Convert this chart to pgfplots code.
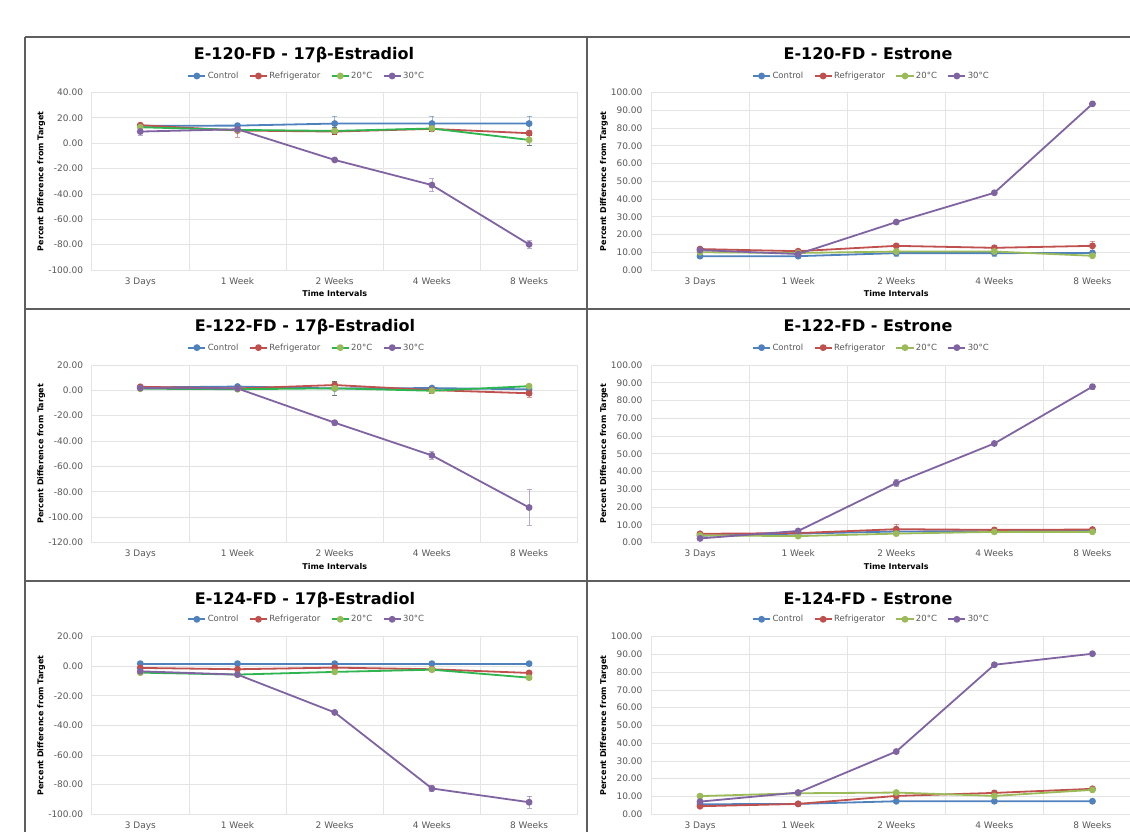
\documentclass[border=0pt]{standalone}
\usepackage{fontspec}
\setmainfont{DejaVu Sans}
\usepackage{pgfplots}
\pgfplotsset{compat=1.18}
\definecolor{cBlue}{HTML}{4F81BD}
\definecolor{cRed}{HTML}{C0504D}
\definecolor{cGreen}{HTML}{9BBB59}
\definecolor{cGreenLine}{HTML}{2DB54F}
\definecolor{cPurple}{HTML}{8064A2}
\definecolor{gridc}{HTML}{E4E4E4}
\definecolor{tickc}{HTML}{595959}
\definecolor{borderc}{HTML}{5E5E5E}
\pgfplotsset{
 common/.style={
  scale only axis, height=177.5pt, anchor=north west,
  xmin=-0.5, xmax=4.5, xtick={0,1,2,3,4},
  xticklabels={3 Days,1 Week,2 Weeks,4 Weeks,8 Weeks},
  minor xtick={-0.5,0.5,1.5,2.5,3.5,4.5},
  xminorgrids=true, ymajorgrids=true,
  minor grid style={draw=gridc, line width=0.8pt},
  major grid style={draw=gridc, line width=0.8pt},
  axis line style={draw=gridc, line width=0.8pt},
  major tick length=0pt, minor tick length=0pt,
  tick style={draw=none},
  ticklabel style={font=\fontsize{9}{10}\selectfont, text=tickc},
  yticklabel style={/pgf/number format/fixed, /pgf/number format/fixed zerofill, /pgf/number format/precision=2, /pgf/number format/assume math mode=true, inner sep=0pt, xshift=-8.5pt},
  xticklabel style={anchor=base, inner sep=0pt, yshift=-14pt},
  ylabel={Percent Difference from Target},
  label style={font=\bfseries\fontsize{8}{9}\selectfont},
  xlabel style={at={(axis description cs:0.5,-0.133)}, anchor=center},
  legend columns=4,
  legend style={draw=none, fill=none, font=\fontsize{8.5}{10}\selectfont, text=tickc, anchor=center,
    /tikz/every even column/.append style={column sep=9pt},
    nodes={inner sep=1.5pt}},
  legend cell align=left,
 },
 leftp/.style={common, width=486pt,
  ylabel style={at={(axis description cs:-0.104,0.5)}, anchor=center}},
 rightp/.style={common, width=490.5pt,
  ylabel style={at={(axis description cs:-0.096,0.5)}, anchor=center}},
 ser/.style={line width=1.8pt, mark=*, mark size=2.5pt, line join=round,
  error bars/y dir=both, error bars/y explicit,
  error bars/error bar style={line width=0.6pt, opacity=0.55},
  error bars/error mark options={rotate=90, mark size=2.5pt, line width=0.6pt, opacity=0.55}},
 greenA/.style={ser, draw=cGreenLine, mark options={fill=cGreen, draw=cGreen}},
 greenB/.style={ser, color=cGreen},
}
\begin{document}
\begin{tikzpicture}[x=1pt,y=1pt]
\useasboundingbox (0,0) rectangle (1130,-832);
\clip (0,0) rectangle (1130,-832);
\fill[white] (0,0) rectangle (1130,-832);

% ---------- Row 1 left
\begin{axis}[leftp, at={(91.7pt,-92.5pt)}, ymin=-100, ymax=40, ytick={-100,-80,...,40},
  xlabel={Time Intervals},
  legend style={at={(axis description cs:0.442,1.093)}}]
\addplot[ser, color=cBlue] coordinates {(0,13.7) +- (0,1) (1,13.9) +- (0,1) (2,15.5) +- (0,6) (3,15.5) +- (0,6) (4,15.5) +- (0,6)};
\addplot[ser, color=cRed] coordinates {(0,14.2) +- (0,1) (1,10.0) +- (0,5) (2,9.2) +- (0,2) (3,11.3) +- (0,1) (4,7.9) +- (0,2)};
\addplot[greenA] coordinates {(0,12.6) +- (0,1) (1,10.5) +- (0,1) (2,9.7) +- (0,3) (3,11.6) +- (0,2) (4,2.6) +- (0,4)};
\addplot[ser, color=cPurple] coordinates {(0,9.2) +- (0,3) (1,11.0) +- (0,1) (2,-13.2) +- (0,1) (3,-33.0) +- (0,5) (4,-79.8) +- (0,3)};
\legend{Control,Refrigerator,20°C,30°C}
\end{axis}

% ---------- Row 1 right
\begin{axis}[rightp, at={(651pt,-92.5pt)}, ymin=0, ymax=100, ytick={0,10,...,100},
  xlabel={Time Intervals},
  legend style={at={(axis description cs:0.449,1.093)}}]
\addplot[ser, color=cBlue] coordinates {(0,7.8) +- (0,0.5) (1,7.8) +- (0,0.5) (2,9.5) +- (0,1.5) (3,9.5) +- (0,1.5) (4,9.6) +- (0,1)};
\addplot[ser, color=cRed] coordinates {(0,11.8) +- (0,0.5) (1,10.6) +- (0,0.5) (2,13.6) +- (0,1) (3,12.5) +- (0,1) (4,13.6) +- (0,2.5)};
\addplot[greenB] coordinates {(0,10.0) +- (0,0.5) (1,9.6) +- (0,0.5) (2,10.4) +- (0,1) (3,10.4) +- (0,1) (4,8.0) +- (0,1)};
\addplot[ser, color=cPurple] coordinates {(0,11.2) +- (0,0.5) (1,9.0) +- (0,0.5) (2,27.0) +- (0,0.8) (3,43.5) +- (0,0.8) (4,93.6) +- (0,1)};
\legend{Control,Refrigerator,20°C,30°C}
\end{axis}

% ---------- Row 2 left
\begin{axis}[leftp, at={(91.7pt,-365pt)}, ymin=-120, ymax=20, ytick={-120,-100,...,20},
  xlabel={Time Intervals},
  legend style={at={(axis description cs:0.442,1.098)}}]
\addplot[ser, color=cBlue] coordinates {(0,2.3) +- (0,1) (1,3.0) +- (0,1) (2,1.5) +- (0,1) (3,1.8) +- (0,1) (4,0.8) +- (0,1)};
\addplot[ser, color=cRed] coordinates {(0,2.8) +- (0,1) (1,1.5) +- (0,1) (2,4.2) +- (0,2) (3,0.2) +- (0,1) (4,-2.3) +- (0,3)};
\addplot[greenA] coordinates {(0,1.3) +- (0,1) (1,0.9) +- (0,2) (2,1.6) +- (0,5.5) (3,-0.3) +- (0,2) (4,3.3) +- (0,1)};
\addplot[ser, color=cPurple] coordinates {(0,1.8) +- (0,1) (1,1.5) +- (0,1) (2,-25.5) +- (0,2) (3,-51.3) +- (0,3) (4,-92.4) +- (0,14)};
\legend{Control,Refrigerator,20°C,30°C}
\end{axis}

% ---------- Row 2 right
\begin{axis}[rightp, at={(651pt,-365pt)}, ymin=0, ymax=100, ytick={0,10,...,100},
  xlabel={Time Intervals},
  legend style={at={(axis description cs:0.449,1.098)}}]
\addplot[ser, color=cBlue] coordinates {(0,3.8) +- (0,0.5) (1,5.0) +- (0,0.5) (2,6.2) +- (0,1) (3,6.4) +- (0,0.8) (4,6.4) +- (0,0.5)};
\addplot[ser, color=cRed] coordinates {(0,4.9) +- (0,0.5) (1,5.3) +- (0,0.5) (2,7.5) +- (0,3) (3,7.1) +- (0,0.8) (4,7.3) +- (0,0.5)};
\addplot[greenB] coordinates {(0,4.0) +- (0,0.5) (1,3.6) +- (0,0.5) (2,5.0) +- (0,0.8) (3,6.0) +- (0,0.8) (4,6.0) +- (0,0.5)};
\addplot[ser, color=cPurple] coordinates {(0,2.3) +- (0,0.5) (1,6.5) +- (0,0.5) (2,33.5) +- (0,2) (3,55.8) +- (0,1) (4,87.8) +- (0,1.5)};
\legend{Control,Refrigerator,20°C,30°C}
\end{axis}

% ---------- Row 3 left
\begin{axis}[leftp, at={(91.7pt,-636.7pt)}, ymin=-100, ymax=20, ytick={-100,-80,...,20},
  legend style={at={(axis description cs:0.442,1.098)}}]
\addplot[ser, color=cBlue] coordinates {(0,1.8) +- (0,0.5) (1,1.8) +- (0,0.5) (2,1.8) +- (0,0.5) (3,1.8) +- (0,0.5) (4,1.8) +- (0,0.5)};
\addplot[ser, color=cRed] coordinates {(0,-1.1) +- (0,1) (1,-2.0) +- (0,1) (2,-0.9) +- (0,1) (3,-2.0) +- (0,1) (4,-4.5) +- (0,1)};
\addplot[greenA] coordinates {(0,-4.3) +- (0,1) (1,-5.6) +- (0,1) (2,-3.8) +- (0,1) (3,-2.3) +- (0,1) (4,-7.7) +- (0,1)};
\addplot[ser, color=cPurple] coordinates {(0,-3.4) +- (0,1) (1,-5.6) +- (0,1) (2,-31.2) +- (0,1) (3,-82.6) +- (0,2) (4,-91.9) +- (0,4)};
\legend{Control,Refrigerator,20°C,30°C}
\end{axis}

% ---------- Row 3 right
\begin{axis}[rightp, at={(651pt,-636.7pt)}, ymin=0, ymax=100, ytick={0,10,...,100},
  legend style={at={(axis description cs:0.449,1.098)}}]
\addplot[ser, color=cBlue] coordinates {(0,5.6) +- (0,0.5) (1,5.8) +- (0,0.5) (2,7.3) +- (0,0.5) (3,7.3) +- (0,0.5) (4,7.3) +- (0,0.5)};
\addplot[ser, color=cRed] coordinates {(0,4.5) +- (0,0.5) (1,5.8) +- (0,0.5) (2,10.3) +- (0,0.5) (3,12.0) +- (0,0.5) (4,14.3) +- (0,0.5)};
\addplot[greenB] coordinates {(0,10.2) +- (0,0.5) (1,11.8) +- (0,0.5) (2,12.2) +- (0,0.5) (3,10.3) +- (0,0.5) (4,13.7) +- (0,0.5)};
\addplot[ser, color=cPurple] coordinates {(0,7.1) +- (0,0.5) (1,12.2) +- (0,0.5) (2,35.3) +- (0,0.5) (3,84.2) +- (0,0.5) (4,90.4) +- (0,0.5)};
\legend{Control,Refrigerator,20°C,30°C}
\end{axis}

% titles
\begin{scope}[every node/.style={font=\bfseries\fontsize{16}{19}\selectfont, anchor=base}]
\node at (304,-60) {E-120-FD - 17β-Estradiol};
\node at (868,-59.5) {E-120-FD - Estrone};
\node at (305,-331.7) {E-122-FD - 17β-Estradiol};
\node at (868,-331.5) {E-122-FD - Estrone};
\node at (305,-604) {E-124-FD - 17β-Estradiol};
\node at (868,-604) {E-124-FD - Estrone};
\end{scope}

% panel borders
\draw[borderc, line width=1.3pt] (25,-37) -- (1140,-37);
\draw[borderc, line width=1.3pt] (25,-309) -- (1140,-309);
\draw[borderc, line width=1.3pt] (25,-581) -- (1140,-581);
\draw[borderc, line width=1.3pt] (25,-37) -- (25,-840);
\draw[borderc, line width=1.3pt] (587,-37) -- (587,-840);
\end{tikzpicture}
\end{document}
